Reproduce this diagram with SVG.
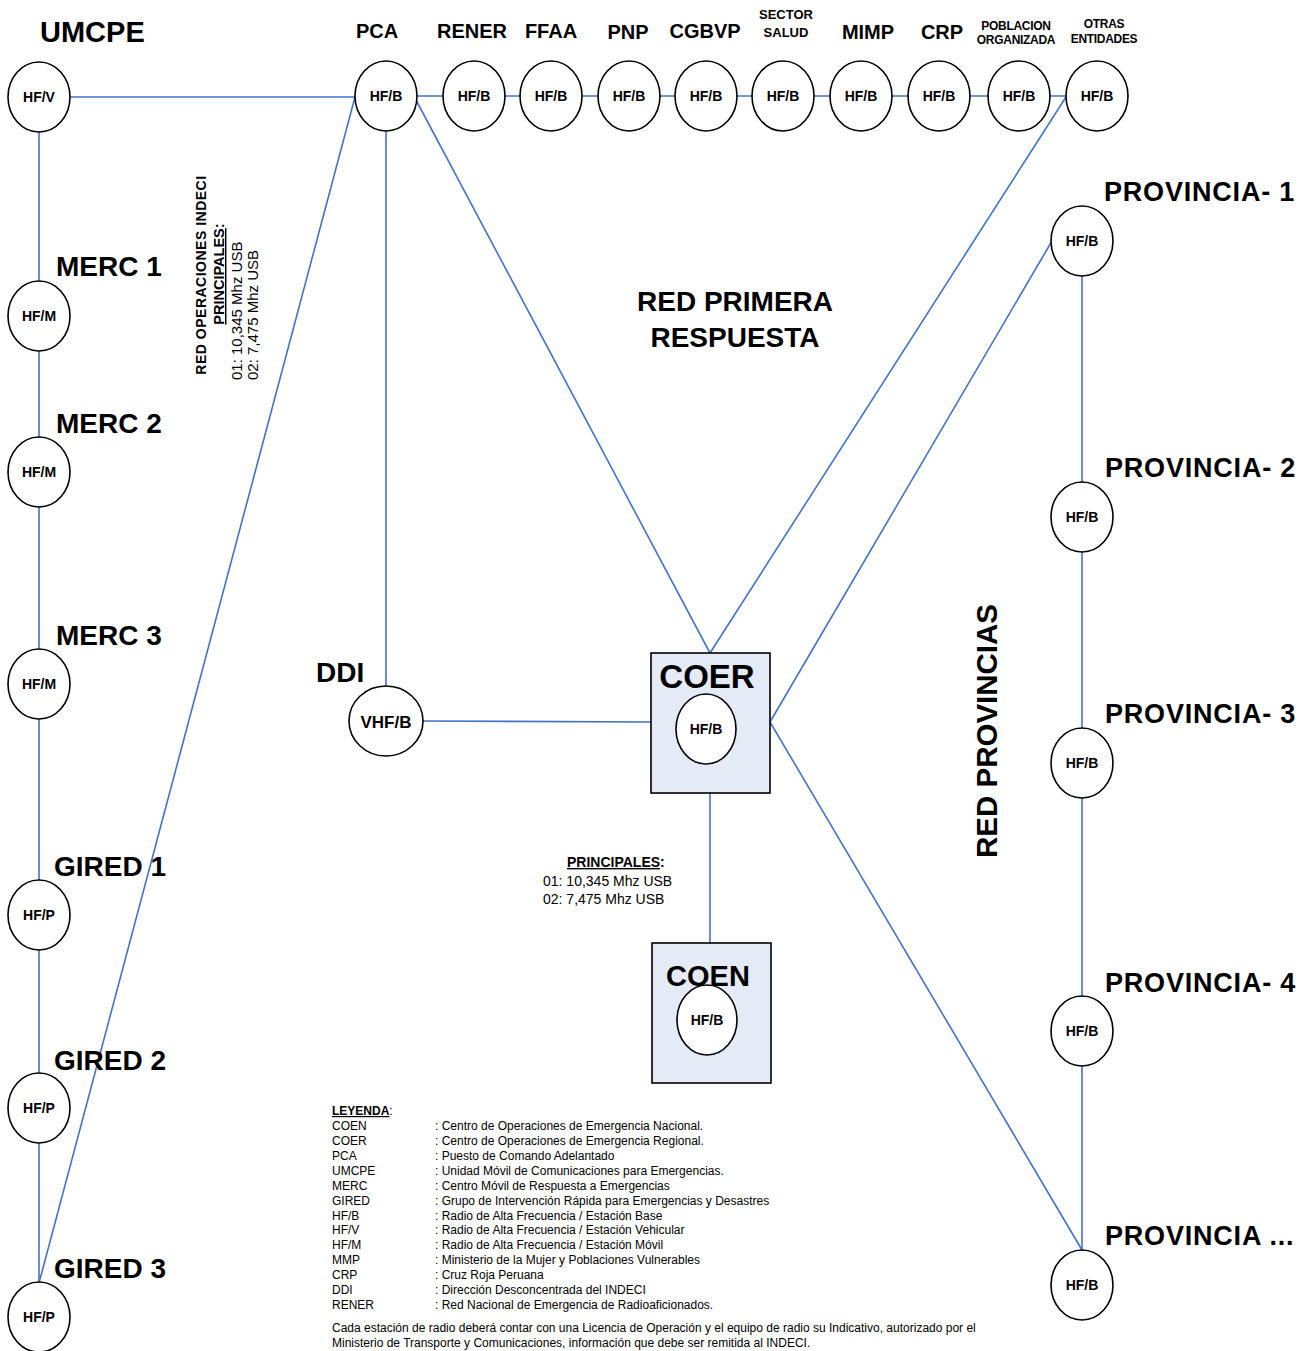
<svg xmlns="http://www.w3.org/2000/svg" width="1312" height="1351" viewBox="0 0 1312 1351">
<style>
text{font-family:"Liberation Sans",Arial,sans-serif;fill:#000}
.n{fill:#fff;stroke:#000;stroke-width:1.6}
.box{fill:#e5ebf6;stroke:#000;stroke-width:1.6}
.c{stroke:#4472c4;stroke-width:1.6;fill:none}
.nl{font-size:14px;font-weight:bold;text-anchor:middle}
.hd{font-size:20px;font-weight:bold;text-anchor:middle}
.hs{font-size:13px;font-weight:bold;text-anchor:middle}
.big{font-size:28px;font-weight:bold}
.pv{font-size:27px;font-weight:bold;letter-spacing:0.8px}
.lg{font-size:12px}
.fq{font-size:14px}
</style>
<rect width="1312" height="1351" fill="#fff"/>
<g id="connectors">
<line class="c" x1="70" y1="97" x2="355" y2="97"/>
<line class="c" x1="39" y1="132" x2="39" y2="1282"/>
<line class="c" x1="355" y1="97" x2="39" y2="1283"/>
<line class="c" x1="386" y1="131" x2="386" y2="686"/>
<line class="c" x1="416" y1="100" x2="710" y2="653"/>
<line class="c" x1="417" y1="96" x2="1066" y2="96"/>
<line class="c" x1="1066" y1="97" x2="710" y2="653"/>
<line class="c" x1="1052" y1="241" x2="770" y2="722"/>
<line class="c" x1="770" y1="722" x2="1082" y2="1250"/>
<line class="c" x1="1082" y1="276" x2="1082" y2="1250"/>
<line class="c" x1="423" y1="721" x2="651" y2="722"/>
<line class="c" x1="710" y1="793" x2="710" y2="943"/>
</g>
<g id="umcpe"><text x="40" y="42" style="font-size:29px;font-weight:bold">UMCPE</text><ellipse class="n" cx="39" cy="97" rx="31" ry="35"/><text class="nl" x="39" y="102">HF/V</text></g>
<g id="pca"><text class="hd" x="377" y="38">PCA</text><ellipse class="n" cx="386" cy="96" rx="31" ry="35"/><text class="nl" x="386" y="101">HF/B</text></g>
<g id="rener"><text class="hd" x="472" y="38">RENER</text><ellipse class="n" cx="474" cy="96" rx="31" ry="35"/><text class="nl" x="474" y="101">HF/B</text></g>
<g id="ffaa"><text class="hd" x="551" y="38">FFAA</text><ellipse class="n" cx="551" cy="96" rx="31" ry="35"/><text class="nl" x="551" y="101">HF/B</text></g>
<g id="pnp"><text class="hd" x="628" y="39">PNP</text><ellipse class="n" cx="629" cy="96" rx="31" ry="35"/><text class="nl" x="629" y="101">HF/B</text></g>
<g id="cgbvp"><text class="hd" x="705" y="38">CGBVP</text><ellipse class="n" cx="706" cy="96" rx="31" ry="35"/><text class="nl" x="706" y="101">HF/B</text></g>
<g id="salud"><text class="hs" x="786" y="19">SECTOR</text><text class="hs" x="786" y="37">SALUD</text><ellipse class="n" cx="783" cy="96" rx="31" ry="35"/><text class="nl" x="783" y="101">HF/B</text></g>
<g id="mimp"><text class="hd" x="868" y="39">MIMP</text><ellipse class="n" cx="861" cy="96" rx="31" ry="35"/><text class="nl" x="861" y="101">HF/B</text></g>
<g id="crp"><text class="hd" x="942" y="39">CRP</text><ellipse class="n" cx="939" cy="96" rx="31" ry="35"/><text class="nl" x="939" y="101">HF/B</text></g>
<g id="poblacion"><text x="1016" y="30" style="font-size:12px;font-weight:bold;text-anchor:middle;letter-spacing:-0.3px">POBLACION</text><text x="1016" y="44" style="font-size:12px;font-weight:bold;text-anchor:middle;letter-spacing:-0.3px">ORGANIZADA</text><ellipse class="n" cx="1019" cy="96" rx="31" ry="35"/><text class="nl" x="1019" y="101">HF/B</text></g>
<g id="otras"><text x="1104" y="28" style="font-size:12px;font-weight:bold;text-anchor:middle;letter-spacing:-0.3px">OTRAS</text><text x="1104" y="43" style="font-size:12px;font-weight:bold;text-anchor:middle;letter-spacing:-0.3px">ENTIDADES</text><ellipse class="n" cx="1097" cy="96" rx="31" ry="35"/><text class="nl" x="1097" y="101">HF/B</text></g>
<g id="merc1"><text class="big" x="56" y="276">MERC 1</text><ellipse class="n" cx="39" cy="316" rx="31" ry="35"/><text class="nl" x="39" y="321">HF/M</text></g>
<g id="merc2"><text class="big" x="56" y="433">MERC 2</text><ellipse class="n" cx="39" cy="472" rx="31" ry="35"/><text class="nl" x="39" y="477">HF/M</text></g>
<g id="merc3"><text class="big" x="56" y="645">MERC 3</text><ellipse class="n" cx="39" cy="684" rx="31" ry="35"/><text class="nl" x="39" y="689">HF/M</text></g>
<g id="gired1"><text class="big" x="54" y="876">GIRED 1</text><ellipse class="n" cx="39" cy="915" rx="31" ry="35"/><text class="nl" x="39" y="920">HF/P</text></g>
<g id="gired2"><text class="big" x="54" y="1070">GIRED 2</text><ellipse class="n" cx="39" cy="1108" rx="31" ry="35"/><text class="nl" x="39" y="1113">HF/P</text></g>
<g id="gired3"><text class="big" x="54" y="1278">GIRED 3</text><ellipse class="n" cx="39" cy="1317" rx="31" ry="35"/><text class="nl" x="39" y="1322">HF/P</text></g>
<g id="prov1"><text class="pv" x="1104" y="201">PROVINCIA- 1</text><ellipse class="n" cx="1082" cy="241" rx="31" ry="35"/><text class="nl" x="1082" y="246">HF/B</text></g>
<g id="prov2"><text class="pv" x="1105" y="477">PROVINCIA- 2</text><ellipse class="n" cx="1082" cy="517" rx="31" ry="35"/><text class="nl" x="1082" y="522">HF/B</text></g>
<g id="prov3"><text class="pv" x="1105" y="723">PROVINCIA- 3</text><ellipse class="n" cx="1082" cy="763" rx="31" ry="35"/><text class="nl" x="1082" y="768">HF/B</text></g>
<g id="prov4"><text class="pv" x="1105" y="992">PROVINCIA- 4</text><ellipse class="n" cx="1082" cy="1031" rx="31" ry="35"/><text class="nl" x="1082" y="1036">HF/B</text></g>
<g id="provn"><text class="pv" x="1105" y="1245">PROVINCIA ...</text><ellipse class="n" cx="1082" cy="1285" rx="31" ry="35"/><text class="nl" x="1082" y="1290">HF/B</text></g>
<g id="ddi"><text class="big" x="316" y="682">DDI</text><ellipse class="n" cx="386" cy="721" rx="37" ry="35"/><text x="386" y="728" style="font-size:17px;font-weight:bold;text-anchor:middle">VHF/B</text></g>
<g id="coer"><rect class="box" x="651" y="653" width="119" height="140"/><text x="707" y="688" style="font-size:33px;font-weight:bold;text-anchor:middle">COER</text><ellipse class="n" cx="706" cy="729" rx="30" ry="35"/><text class="nl" x="706" y="734">HF/B</text></g>
<g id="coen"><rect class="box" x="652" y="943" width="119" height="140"/><text x="708" y="986" style="font-size:29px;font-weight:bold;text-anchor:middle">COEN</text><ellipse class="n" cx="707" cy="1020" rx="30" ry="35"/><text class="nl" x="707" y="1025">HF/B</text></g>
<g id="labels">
<text x="735" y="311" style="font-size:28px;font-weight:bold;text-anchor:middle">RED PRIMERA</text>
<text x="735" y="347" style="font-size:28px;font-weight:bold;text-anchor:middle">RESPUESTA</text>
<text transform="translate(997,731) rotate(-90)" style="font-size:29.5px;font-weight:bold;text-anchor:middle">RED PROVINCIAS</text>
<text transform="translate(206,275) rotate(-90)" style="font-size:14px;font-weight:bold;text-anchor:middle;letter-spacing:0.5px">RED OPERACIONES INDECI</text>
<text transform="translate(224,274) rotate(-90)" style="font-size:14.5px;font-weight:bold;text-anchor:middle"><tspan text-decoration="underline">PRINCIPALES</tspan>:</text>
<text transform="translate(242,380) rotate(-90)" style="font-size:15px">01: 10,345 Mhz USB</text>
<text transform="translate(258,380) rotate(-90)" style="font-size:15px">02: 7,475 Mhz USB</text>
<text x="567" y="867" style="font-size:14px;font-weight:bold"><tspan text-decoration="underline">PRINCIPALES</tspan>:</text>
<text class="fq" x="543" y="886">01: 10,345 Mhz USB</text>
<text class="fq" x="543" y="904">02: 7,475 Mhz USB</text>
</g>
<g id="legend">
<text class="lg" x="332" y="1115" style="font-weight:bold"><tspan text-decoration="underline">LEYENDA</tspan><tspan style="font-weight:normal">:</tspan></text>
<text class="lg" x="332" y="1130">COEN</text><text class="lg" x="435" y="1130">: Centro de Operaciones de Emergencia Nacional.</text>
<text class="lg" x="332" y="1145">COER</text><text class="lg" x="435" y="1145">: Centro de Operaciones de Emergencia Regional.</text>
<text class="lg" x="332" y="1160">PCA</text><text class="lg" x="435" y="1160">: Puesto de Comando Adelantado</text>
<text class="lg" x="332" y="1175">UMCPE</text><text class="lg" x="435" y="1175">: Unidad Móvil de Comunicaciones para Emergencias.</text>
<text class="lg" x="332" y="1190">MERC</text><text class="lg" x="435" y="1190">: Centro Móvil de Respuesta a Emergencias</text>
<text class="lg" x="332" y="1205">GIRED</text><text class="lg" x="435" y="1205">: Grupo de Intervención Rápida para Emergencias y Desastres</text>
<text class="lg" x="332" y="1220">HF/B</text><text class="lg" x="435" y="1220">: Radio de Alta Frecuencia / Estación Base</text>
<text class="lg" x="332" y="1234">HF/V</text><text class="lg" x="435" y="1234">: Radio de Alta Frecuencia / Estación Vehicular</text>
<text class="lg" x="332" y="1249">HF/M</text><text class="lg" x="435" y="1249">: Radio de Alta Frecuencia / Estación Móvil</text>
<text class="lg" x="332" y="1264">MMP</text><text class="lg" x="435" y="1264">: Ministerio de la Mujer y Poblaciones Vulnerables</text>
<text class="lg" x="332" y="1279">CRP</text><text class="lg" x="435" y="1279">: Cruz Roja Peruana</text>
<text class="lg" x="332" y="1294">DDI</text><text class="lg" x="435" y="1294">: Dirección Desconcentrada del INDECI</text>
<text class="lg" x="332" y="1309">RENER</text><text class="lg" x="435" y="1309">: Red Nacional de Emergencia de Radioaficionados.</text>
<text class="lg" x="332" y="1332">Cada estación de radio deberá contar con una Licencia de Operación y el equipo de radio su Indicativo, autorizado por el</text>
<text class="lg" x="332" y="1347">Ministerio de Transporte y Comunicaciones, información que debe ser remitida al INDECI.</text>
</g>
</svg>
